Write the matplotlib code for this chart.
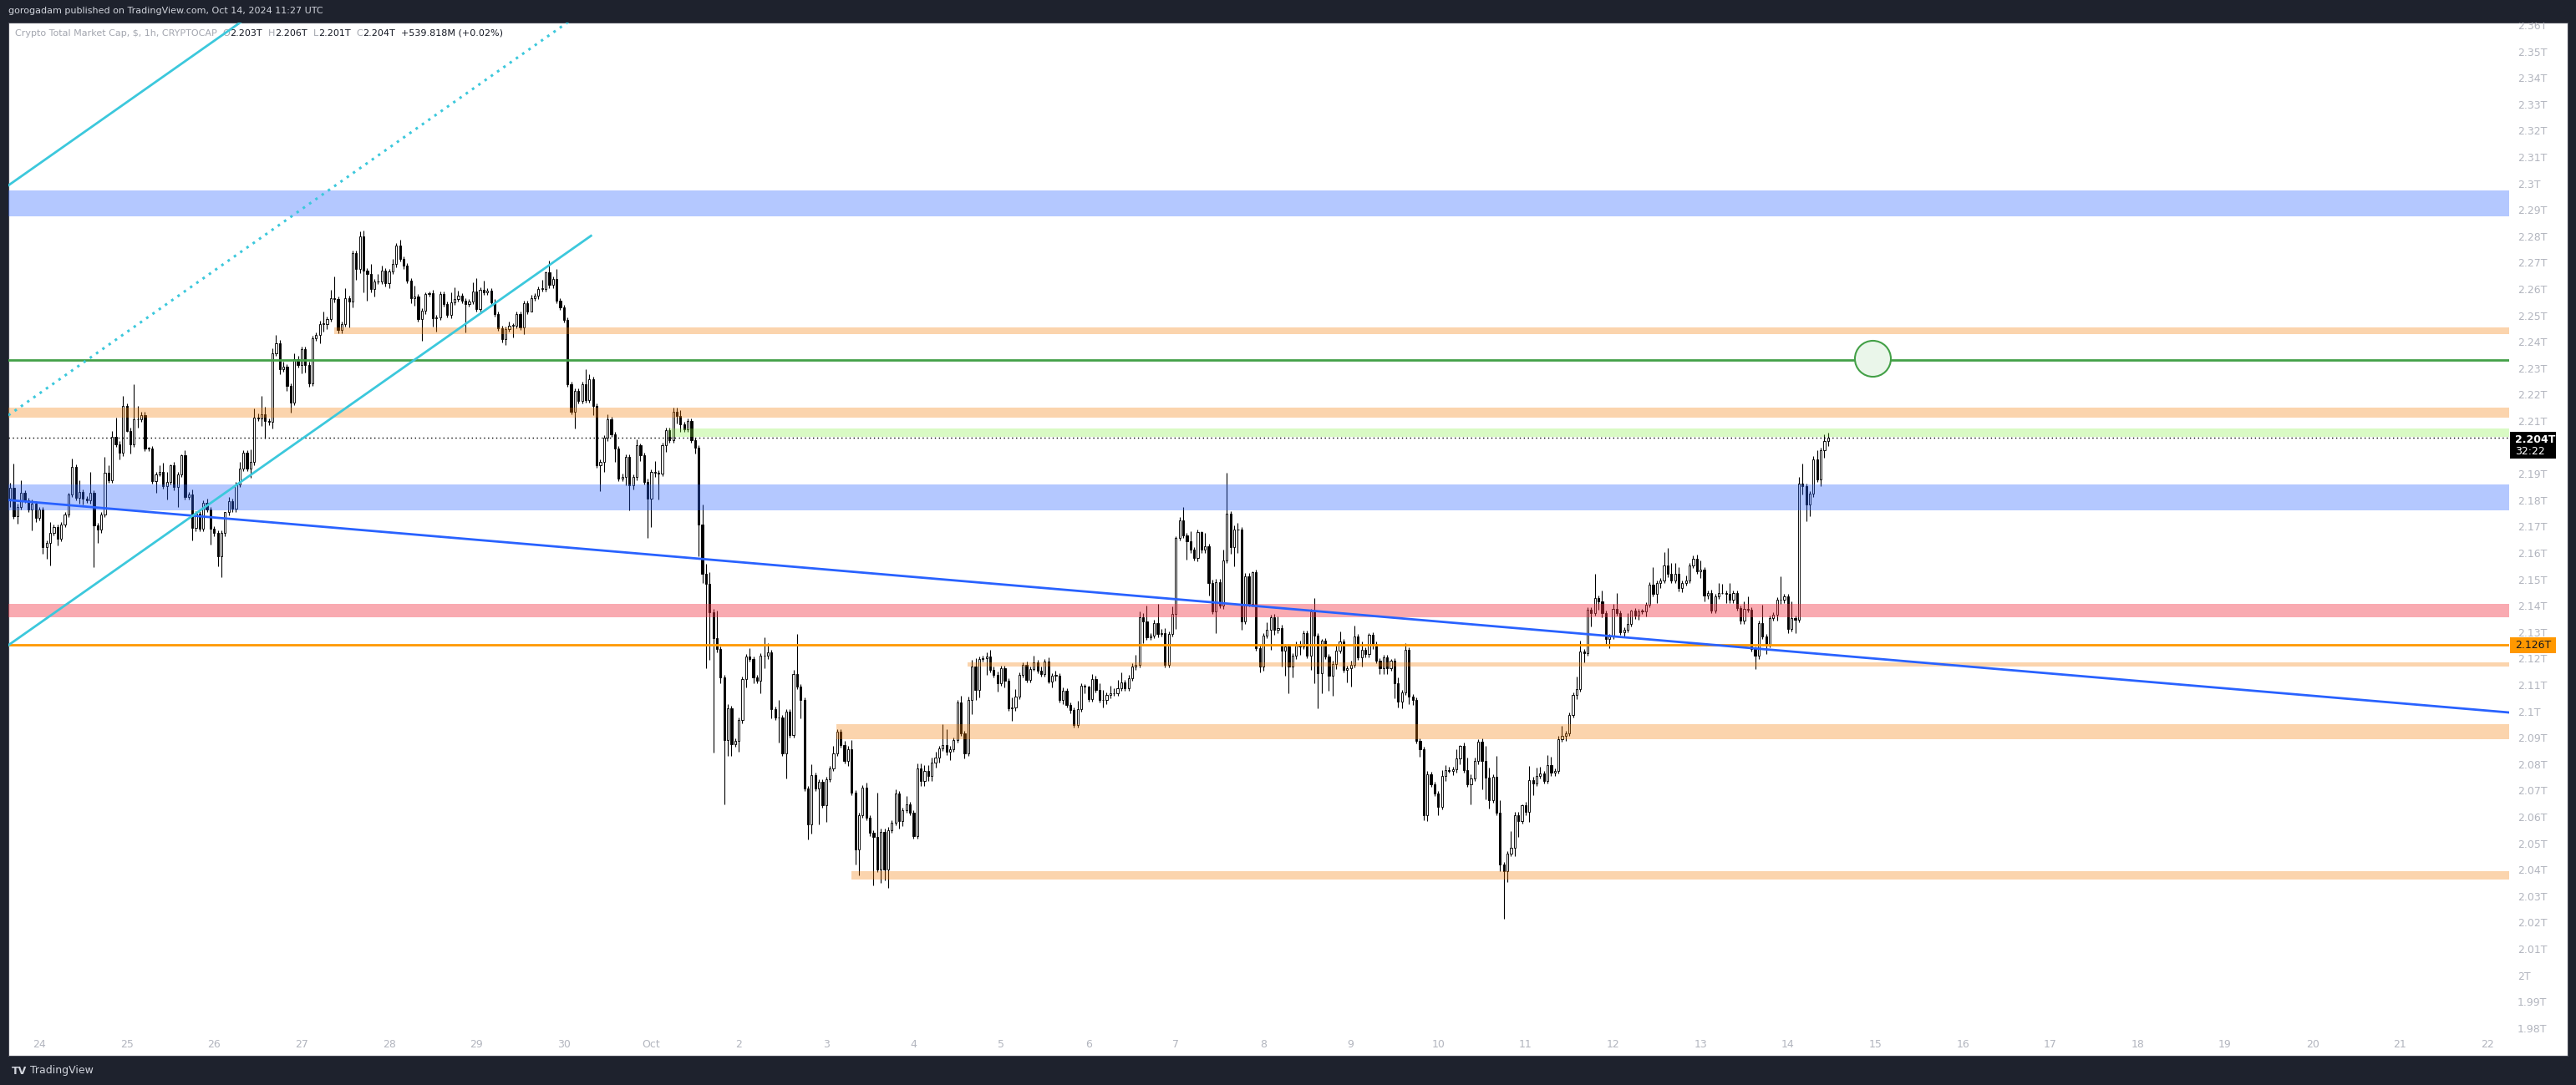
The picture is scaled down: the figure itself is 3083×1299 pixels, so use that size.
import numpy as np
import matplotlib
matplotlib.use("Agg")
import matplotlib.pyplot as plt
from matplotlib.patches import Rectangle
from matplotlib.transforms import blended_transform_factory

# ---------------- data (prices in billions of $, hourly candles, UTC) ----------------
first_candle = "2024-09-23 16:00"
first_open = 2181.0
close = [
    2185, 2174.3, 2178, 2183.2, 2180.3, 2176.9, 2179, 2173.7, 2176.9, 2162.7,
    2164.2, 2168.2, 2170.2, 2165.9, 2171.1, 2175, 2182.5, 2193, 2181.3, 2183.5,
    2180.9, 2180.5, 2183.1, 2170.8, 2169.2, 2174.9, 2190.7, 2188, 2204.3, 2201.7,
    2198.3, 2216.2, 2206.8, 2201.7, 2211.1, 2211.1, 2212.8, 2200.1, 2200.1, 2187.7,
    2190.1, 2191.3, 2185.9, 2187.4, 2193.8, 2185.3, 2190.1, 2197.5, 2181.6, 2182.7,
    2169.8, 2175.3, 2169.7, 2179.3, 2176.9, 2169.7, 2167.9, 2159.3, 2167.9, 2175.8,
    2180.1, 2177.1, 2186.4, 2192.4, 2198.3, 2192.5, 2194.8, 2211.7, 2211.4, 2213,
    2210.3, 2210, 2236, 2240, 2230.2, 2231, 2223.8, 2217.5, 2234, 2231.8,
    2237.6, 2231.8, 2224.6, 2241.8, 2242.9, 2247.3, 2247.3, 2249, 2257.1, 2256.5,
    2245, 2247.1, 2256.9, 2255.8, 2274, 2268, 2280.5, 2267.3, 2266.3, 2260.3,
    2263.2, 2263.2, 2267.3, 2262.7, 2267, 2269.8, 2276.8, 2271.9, 2269.2, 2263.6,
    2257.1, 2257.6, 2249.2, 2252.1, 2258.5, 2259, 2249.5, 2249.7, 2258.5, 2254.7,
    2250.5, 2255.3, 2256.6, 2257.8, 2256.1, 2254.8, 2255.7, 2259.4, 2252.9, 2260.1,
    2259.2, 2259.7, 2255.5, 2251, 2245.5, 2241.6, 2245.2, 2246.6, 2246.6, 2251,
    2246, 2255, 2252, 2257.1, 2257.8, 2260.5, 2260.5, 2266.8, 2261.9, 2264.3,
    2256.1, 2253.4, 2248.7, 2224.4, 2213.9, 2221.8, 2218.1, 2224.4, 2218.3, 2226.3,
    2216, 2193.8, 2194.9, 2204, 2211, 2205.4, 2200.1, 2188.7, 2189.4, 2196.9,
    2186, 2189.1, 2201.3, 2197.5, 2187.5, 2180.9, 2191.2, 2190.9, 2190.6, 2201.3,
    2206.9, 2203.1, 2214, 2212.5, 2209.1, 2207.3, 2210.3, 2203.1, 2200.3, 2171.2,
    2152.5, 2148.7, 2138.1, 2128.1, 2123.9, 2113.4, 2089.5, 2101.5, 2088, 2089.3,
    2097, 2112.7, 2121.2, 2120.2, 2113.3, 2112.1, 2121.4, 2121.4, 2122.7, 2101.2,
    2098, 2098, 2084.5, 2100.3, 2091.4, 2114.6, 2109.9, 2104.7, 2071.1, 2057.6,
    2076.2, 2071.1, 2073.6, 2064.9, 2074.7, 2078.9, 2084.5, 2092.8, 2087.8, 2081.8,
    2086.2, 2069.7, 2048, 2061.1, 2071.5, 2060.1, 2054.3, 2053, 2040.5, 2054.9,
    2040.5, 2055.5, 2058.3, 2069.3, 2059, 2063, 2065.1, 2062.1, 2053.3, 2078.7,
    2074, 2078, 2076, 2081, 2083, 2086.4, 2087.8, 2085, 2086.2, 2089.6,
    2103.8, 2092, 2084.6, 2104.9, 2117.3, 2108.4, 2120.2, 2120.5, 2121.2, 2116.3,
    2114.4, 2111.2, 2116.8, 2112.1, 2101.5, 2101.8, 2106, 2114.2, 2118.1, 2112.4,
    2116.5, 2118.9, 2115.8, 2114.7, 2119.2, 2111.7, 2114, 2114, 2104.9, 2108.2,
    2102.8, 2100.8, 2095.2, 2101.2, 2110.2, 2109.9, 2105.2, 2112.8, 2108.6, 2104.7,
    2104.7, 2106.5, 2107.3, 2107.3, 2109.1, 2111.5, 2109.1, 2113.1, 2117.3, 2118.2,
    2136, 2134.5, 2128.6, 2129.2, 2133.9, 2129.8, 2130, 2118.2, 2129.8, 2137.4,
    2166.1, 2172.7, 2167.1, 2164.8, 2161.6, 2158.7, 2168.3, 2161.6, 2162.9, 2149.2,
    2138.2, 2149.5, 2140.6, 2157.7, 2175.3, 2162.8, 2169.2, 2169.2, 2134.6, 2151.7,
    2141.3, 2153.1, 2124.5, 2117.4, 2129.1, 2131.2, 2136, 2131.2, 2132, 2123.5,
    2124.9, 2117.4, 2121.4, 2125.4, 2125.1, 2130, 2121.6, 2138.3, 2129.2, 2114.8,
    2127.2, 2121.1, 2113.9, 2118.5, 2123.5, 2126.8, 2116.2, 2116.7, 2118.2, 2128.9,
    2120.8, 2123.7, 2122, 2129.5, 2125.8, 2119.7, 2116.8, 2120.8, 2116.8, 2119.7,
    2111, 2104.1, 2107.6, 2123.7, 2106.1, 2104.7, 2089.2, 2086.1, 2061, 2076.5,
    2072.7, 2069.4, 2064.4, 2075.9, 2078.2, 2077.7, 2078.5, 2082.5, 2087.5, 2078.2,
    2072.8, 2075, 2081.5, 2088.9, 2081.5, 2075.4, 2066.7, 2075.6, 2062.1, 2042.3,
    2039.9, 2046.6, 2048.7, 2061.2, 2058.9, 2065, 2062.2, 2074.5, 2073.2, 2075.9,
    2076.9, 2074.1, 2080.2, 2077.1, 2077.8, 2090, 2091.2, 2092, 2099, 2106.7,
    2108.9, 2123.1, 2122.6, 2139, 2137.7, 2143.3, 2142, 2137.7, 2127.7, 2128.7,
    2139.1, 2137.7, 2130.5, 2131.4, 2133.6, 2138.5, 2136.6, 2138.4, 2138.4, 2140.8,
    2148.3, 2144.9, 2149.1, 2150.1, 2155.6, 2152.4, 2150.1, 2152.4, 2147, 2149.1,
    2150.1, 2155.6, 2158.3, 2153.4, 2154, 2144.2, 2145.4, 2138.7, 2143.9, 2145.2,
    2145.2, 2144.8, 2142.6, 2145.1, 2139.6, 2134.7, 2139.1, 2139, 2124, 2121.6,
    2133.8, 2128.7, 2125.6, 2135.7, 2136.9, 2142.6, 2142.6, 2143.9, 2131.6, 2135.7,
    2135.1, 2186.8, 2185.8, 2178.8, 2182.8, 2195.9, 2188.3, 2199.3, 2203, 2204,
]
wick_up = [
    2, 9.3, 1, 4.8, 1, 1, 1.6, 1, 1, 1,
    1, 3.9, 1, 1, 1, 1, 0.7, 3.1, 1, 4.5,
    1, 1, 7.9, 1, 1, 1, 6, 3.1, 2.3, 7.4,
    1, 3.6, 1, 1, 13.3, 5.1, 1, 1, 0.5, 1,
    1, 2.5, 3.2, 3.7, 0.3, 1, 1, 0.3, 1.9, 1,
    1.8, 1, 1, 1, 1.8, 1, 1, 1, 1, 0.3,
    1.5, 1, 1, 2.4, 1, 1, 4.8, 3.4, 1.6, 7.1,
    2.9, 1, 2, 3, 1, 2, 1, 1, 2, 1,
    1, 1, 1, 1, 1, 1, 4.5, 1, 3, 8.1,
    1, 1, 3.9, 1, 1, 1, 1.9, 2.2, 1, 3.5,
    1, 3, 1.9, 1, 1, 2, 1, 2.2, 1, 1,
    1, 4, 1, 1, 0.7, 0.4, 1, 1, 1, 1,
    1, 3.9, 4.5, 1.9, 1, 1, 1, 3.5, 5.3, 1,
    3.5, 1, 1, 1, 1, 1, 1, 1.5, 1, 1,
    1, 1, 1, 1, 1, 1, 3.5, 0.3, 4.5, 1,
    3.6, 1, 1, 1, 1, 1, 1, 1, 5.8, 2,
    1, 1, 1, 1, 2, 1, 1, 1, 1, 1,
    1, 1, 2.1, 0.6, 1, 1, 1, 4.2, 1, 1,
    1, 1, 1.6, 1.6, 2.1, 1, 1, 1.2, 1, 1,
    7.5, 3.7, 4.4, 1, 10.6, 1, 1, 1.6, 1, 1,
    1, 1, 1, 3.1, 1, 1, 1, 7, 3.7, 1,
    1, 6.9, 1, 1, 1, 1.6, 15.1, 1, 1, 1,
    4.3, 1, 1, 1, 1, 1, 2.9, 1, 1, 1.5,
    1, 3.3, 1, 1, 1, 1.8, 1, 1, 16.7, 1,
    1, 1, 1, 1.5, 1, 1, 3.2, 1, 1, 2,
    2, 2, 2, 2, 2, 1, 7.9, 5.8, 1, 1,
    1, 2.5, 1, 1, 2.7, 3.2, 1, 1, 1.7, 2.5,
    1, 1, 1, 1, 1, 3.9, 2.9, 1, 1, 1.3,
    1, 2.6, 1, 1.5, 1, 1.8, 1, 1.8, 1, 1.4,
    1, 1, 1, 3.3, 0.8, 0.5, 0.3, 1.7, 1.1, 2.4,
    3.9, 1, 2.7, 1.9, 3.2, 3.7, 1, 1, 1.4, 3.6,
    2.2, 1.6, 6, 1, 1.1, 7.4, 1.8, 2.1, 1, 2.9,
    0.8, 1.4, 5.1, 1, 3.9, 1, 1, 0.4, 5.1, 1,
    1, 1, 1, 4, 15.4, 1, 1.7, 2.5, 1, 1,
    1, 0.5, 1, 1, 1, 3.1, 1, 1.2, 4.4, 1.3,
    1, 1, 1, 1.5, 1.8, 1, 1, 1, 5.1, 1,
    0.5, 1, 1, 1, 1.9, 3.8, 1, 1, 1.5, 3.9,
    1, 3.1, 1, 0.6, 0.8, 1, 1, 1, 1, 0.6,
    1, 2.4, 1, 2.7, 1, 1, 1, 1, 1, 1.2,
    1, 1, 1, 2.3, 2, 1.2, 0.9, 3.5, 0.2, 1,
    4.6, 1.5, 1.3, 0.9, 1.2, 6, 3.7, 1, 8, 4.6,
    1, 1, 6.5, 1, 1, 0.3, 1, 5.2, 1, 3.1,
    2.5, 1, 3.8, 3.1, 1, 1, 3.7, 1, 1, 1,
    4.7, 4.2, 1, 1, 1, 9.1, 1, 4.1, 1, 1,
    2.1, 6.1, 1, 1, 4.1, 0.5, 1, 1, 0.9, 1,
    1, 6.7, 1, 0.9, 5.1, 6.7, 4.1, 4.3, 2.6, 1,
    1.8, 1, 1.2, 1.5, 3.7, 1, 0.9, 1, 1, 3.9,
    3.6, 1, 4.1, 1, 1, 1, 2.9, 4.8, 1, 1,
    1, 7.1, 1, 1, 1, 1, 9, 0.9, 1, 6.5,
    1, 2.4, 7.4, 1, 1, 1.3, 3.4, 1, 2.4, 2,
]
wick_dn = [
    3, 1, 2.7, 1, 1, 1, 7.9, 1.5, 1, 2.7,
    4.6, 8.6, 1, 2.7, 1, 1, 1, 1, 1, 2.3,
    2, 1, 1.5, 15.8, 5, 1.2, 1, 1, 1.1, 1,
    2.4, 1, 0.5, 3.7, 1, 3.1, 1, 1, 1.1, 1,
    4.5, 0.6, 1, 5.3, 1, 1, 7.3, 1, 1, 1,
    4.7, 1, 1, 1, 1, 6, 1, 4, 7.9, 1,
    1, 1, 1, 1, 1, 1, 3.5, 1, 1, 2.9,
    6.5, 1, 2.5, 1, 2, 1, 2, 4, 1, 1,
    3.2, 3, 1.3, 1, 1, 3, 2.9, 2, 1, 1,
    1.4, 1.4, 1, 10, 2.2, 4, 1.5, 8.1, 10.3, 1,
    2.7, 1, 1, 1.4, 2, 1, 1, 1, 1, 1,
    2, 3, 1, 8.4, 1, 1, 3.2, 5.1, 1, 1,
    0.8, 1, 1, 1, 1, 10.9, 1, 1, 1, 1,
    1, 1, 1, 1, 1, 1.4, 2.2, 1, 4.5, 1,
    1, 2.6, 1, 0.2, 1, 1, 1, 1, 1, 1,
    1, 1, 1, 1, 1, 6.4, 1, 1, 1, 1,
    3.2, 1, 10, 3.7, 1, 1, 5.2, 1, 1, 3.2,
    9.5, 1.4, 1, 2.1, 1, 14.9, 10.5, 1.5, 10, 1,
    2.5, 1, 1, 3.1, 2.8, 1, 1, 1, 2.2, 11.9,
    3.5, 31.9, 18.2, 43.2, 1, 2.2, 24.2, 6.1, 4.3, 1,
    4.1, 1, 3.1, 1, 2.1, 1, 4.7, 4.6, 1, 3.5,
    1, 9.3, 1, 9.6, 1, 1, 1, 7, 1, 5.8,
    3.6, 1, 13.5, 1, 6.3, 1, 1, 1, 1, 1,
    1.9, 1, 5.6, 9.6, 1, 1, 1, 18.4, 1, 5.2,
    4, 6.9, 1, 1, 3, 2, 1, 1, 1, 1,
    2, 2, 2, 2, 2, 2, 1, 1, 3, 1,
    1, 1, 2, 1, 5.5, 3.7, 2.7, 1, 6.3, 1,
    1, 3.4, 1, 2.7, 1, 4.7, 1.3, 1, 1, 1,
    1, 0.7, 1, 1, 1, 0.7, 2.1, 1.9, 1, 1.8,
    1, 1, 1, 1, 1, 2.6, 1.2, 1, 1, 1,
    2.7, 1.6, 1, 1, 1, 1, 1, 1, 1, 1.3,
    1, 8.2, 1, 1, 1, 1.2, 1, 1, 1, 1,
    5.8, 1, 1, 6.8, 1, 1, 1.3, 1, 1, 5,
    1, 8, 1.1, 1.4, 1, 2.6, 7.4, 8.7, 3.2, 1,
    1, 1, 1, 2.3, 1.7, 1, 7.5, 1.7, 1, 6.1,
    9.6, 10, 4.1, 1, 3.3, 1, 1, 5.4, 18.2, 13.3,
    7.4, 1, 5.7, 7.5, 1.9, 1, 1, 4.8, 6.8, 1,
    1, 3.4, 1, 1, 1.7, 1, 2.1, 2.1, 2.1, 1,
    5.7, 2.3, 2.6, 1, 2.9, 1.7, 1, 3, 1.7, 2.1,
    1, 1, 3.4, 1, 1.9, 0.6, 1.4, 1.4, 2, 1,
    1, 7.6, 1, 1, 10.5, 8.4, 3.2, 1, 1, 2.4,
    18, 4.2, 1, 3, 5.9, 1, 1, 3.7, 4.6, 1,
    1, 1, 1, 1, 1, 1, 1, 2.1, 1, 1,
    1.7, 1, 3.5, 1, 5.1, 1, 3, 1.7, 1.6, 3.4,
    1, 1, 1, 1.8, 1, 1, 1, 1.6, 1, 1.9,
    0.9, 1, 3.5, 2, 1, 1, 1, 1, 1, 1.3,
    1, 1, 1, 1, 2.4, 2, 1, 1, 1, 1,
    0.3, 3.4, 1, 1, 1, 1, 1, 0.9, 1, 5.2,
    1.2, 1, 3.4, 1, 1, 2.2, 1.4, 1, 1.4, 1,
    4.9, 1, 3.3, 6.4, 4.4, 1, 1, 2.4, 2.7, 2,
]

# price axis (T) and date axis
price_ticks = [round(1.98 + 0.01 * k, 2) for k in range(39)]
day_labels = ["24", "25", "26", "27", "28", "29", "30", "Oct", "2", "3", "4", "5", "6", "7",
              "8", "9", "10", "11", "12", "13", "14", "15", "16", "17", "18", "19", "20", "21", "22"]

# drawings: (low T, high T, start day since Sep 24 00:00 or None for full width, kind)
zones = [
    (2.2879, 2.2978, None, "blue"),
    (2.2433, 2.2458, 3.37, "orange"),
    (2.2116, 2.2156, None, "orange"),
    (2.2045, 2.2075, 7.20, "green"),
    (2.1767, 2.1863, None, "blue"),
    (2.1361, 2.1411, None, "red"),
    (2.1174, 2.1191, 10.62, "orange"),
    (2.0899, 2.0955, 9.12, "orange"),
    (2.0368, 2.0399, 9.29, "orange"),
]
green_level = 2.2335
orange_level = 2.1257
last_price = 2.204
trend_pts = [(-0.3536, 2.1805), (28.249, 2.1000)]
channel_lower = [(-0.3536, 2.1255), (6.31, 2.2806)]
channel_width = 0.1742
target_circle = (20.97, 2.2343)

# ---------------- layout ----------------
W, H = 3083, 1299
fig = plt.figure(figsize=(W / 100, H / 100), dpi=100)
fig.patch.set_facecolor("#1e222d")


def fx(px):
    return px / W


def fy(py):
    return 1 - py / H


PL, PR, PT, PB = 10, 3003, 27, 1236
XL, XR = -0.3536, 28.249
YB, YT = 1.9788, 2.3614

fig.add_artist(Rectangle((fx(10), fy(1264)), fx(3073) - fx(10), fy(27) - fy(1264),
                         transform=fig.transFigure, facecolor="white", edgecolor="#434651",
                         linewidth=0.8, zorder=0))

ax = fig.add_axes([fx(PL), fy(PB), fx(PR) - fx(PL), fy(PT) - fy(PB)])
ax.set_xlim(XL, XR)
ax.set_ylim(YB, YT)
ax.axis("off")

# candles
c = np.array(close) / 1000.0
o = np.concatenate([[first_open / 1000.0], c[:-1]])
top = np.maximum(o, c)
bot = np.minimum(o, c)
hi = top + np.array(wick_up) / 1000.0
lo = bot - np.array(wick_dn) / 1000.0
t = (np.arange(len(c)) - 8) / 24.0
ax.vlines(t, lo, hi, color="black", linewidth=0.8, zorder=2)
up = c >= o
hgt = np.maximum(top - bot, 0.00012)
bw = 0.021
ax.bar(t[up], hgt[up], bottom=bot[up], width=bw, facecolor="white", edgecolor="black",
       linewidth=0.65, zorder=2.5)
ax.bar(t[~up], hgt[~up], bottom=bot[~up], width=bw, facecolor="black", edgecolor="black",
       linewidth=0.65, zorder=2.5)

zone_style = {
    "blue": ("#2962ff", 0.35),
    "orange": ("#f57c00", 0.32),
    "green": ("#82f03c", 0.30),
    "red": ("#f23645", 0.42),
}
for zl, zh, zs, kind in zones:
    col, al = zone_style[kind]
    x0 = XL if zs is None else zs
    ax.add_patch(Rectangle((x0, zl), XR - x0, zh - zl, facecolor=col, alpha=al,
                           linewidth=0, zorder=3))

ax.plot([XL, XR], [green_level, green_level], color="#43a047", linewidth=2.0, zorder=4)
ax.plot([XL, XR], [orange_level, orange_level], color="#ff9800", linewidth=2.0, zorder=4)
ax.plot([XL, XR], [last_price, last_price], color="black", linewidth=1.0,
        linestyle=(0, (1, 2.5)), zorder=4)
ax.plot([p[0] for p in trend_pts], [p[1] for p in trend_pts], color="#2962ff",
        linewidth=2.0, zorder=4)

cx = [p[0] for p in channel_lower]
cy = np.array([p[1] for p in channel_lower])
ax.plot(cx, cy, color="#3cc8dc", linewidth=2.0, zorder=4)
ax.plot(cx, cy + channel_width, color="#3cc8dc", linewidth=2.0, zorder=4)
ax.plot(cx, cy + channel_width / 2, color="#3cc8dc", linewidth=2.2,
        linestyle=(0, (1, 2)), zorder=4)

ax.plot([target_circle[0]], [target_circle[1]], marker="o", markersize=31,
        markerfacecolor="#eaf6ea", markeredgecolor="#43a047", markeredgewidth=1.5, zorder=5)

# price scale
axr = fig.add_axes([fx(PR), fy(PB), fx(3073) - fx(PR), fy(PT) - fy(PB)])
axr.set_xlim(0, 1)
axr.set_ylim(YB, YT)
axr.axis("off")
for v in price_ticks:
    lab = ("%.2f" % v).rstrip("0").rstrip(".") + "T"
    axr.text(0.14, v, lab, ha="left", va="center", fontsize=9, color="#b2b5be", clip_on=True)

# current price tag
fig.add_artist(Rectangle((fx(3004), fy(549)), fx(3059) - fx(3004), fy(517) - fy(549),
                         transform=fig.transFigure, facecolor="black", edgecolor="none", zorder=6))
fig.text(fx(3010), fy(526), "2.204T", color="white", fontsize=9, fontweight="bold",
         ha="left", va="center", zorder=7)
fig.text(fx(3010), fy(541), "32:22", color="white", fontsize=9, ha="left", va="center", zorder=7)
fig.add_artist(Rectangle((fx(3004), fy(782)), fx(3059) - fx(3004), fy(763) - fy(782),
                         transform=fig.transFigure, facecolor="#ff9800", edgecolor="none", zorder=6))
fig.text(fx(3010), fy(773), "2.126T", color="#131722", fontsize=9, ha="left", va="center", zorder=7)

# date labels
tr = blended_transform_factory(ax.transData, fig.transFigure)
for d, lab in enumerate(day_labels):
    ax.text(d, fy(1250), lab, transform=tr, ha="center", va="center", fontsize=9,
            color="#b2b5be", clip_on=False)

# header and legend
fig.text(fx(10), fy(13), "gorogadam published on TradingView.com, Oct 14, 2024 11:27 UTC",
         color="#d1d4dc", fontsize=8, ha="left", va="center")

pieces = [("Crypto Total Market Cap, $, 1h, CRYPTOCAP", "#a3a6af", 0),
          ("O", "#a3a6af", 5), ("2.203T", "#131722", 0),
          ("H", "#a3a6af", 5), ("2.206T", "#131722", 0),
          ("L", "#a3a6af", 5), ("2.201T", "#131722", 0),
          ("C", "#a3a6af", 5), ("2.204T", "#131722", 0),
          ("+539.818M (+0.02%)", "#131722", 5)]
prev = fig.text(fx(18), fy(40), pieces[0][0], color=pieces[0][1], fontsize=8,
                ha="left", va="center")
for txt, col, gap in pieces[1:]:
    prev = ax.annotate(txt, xy=(1, 0.5), xycoords=prev, xytext=(gap, 0),
                       textcoords="offset points", color=col, fontsize=8,
                       ha="left", va="center", annotation_clip=False)

# footer logo
logo = fig.text(fx(14), fy(1282), "TV", color="#d1d4dc", fontsize=9, fontweight="bold",
                ha="left", va="center")
ax.annotate("TradingView", xy=(1, 0.5), xycoords=logo, xytext=(3, 0), textcoords="offset points",
            color="#d1d4dc", fontsize=9, ha="left", va="center", annotation_clip=False)

fig.savefig("out.png", dpi=100, facecolor=fig.get_facecolor())
